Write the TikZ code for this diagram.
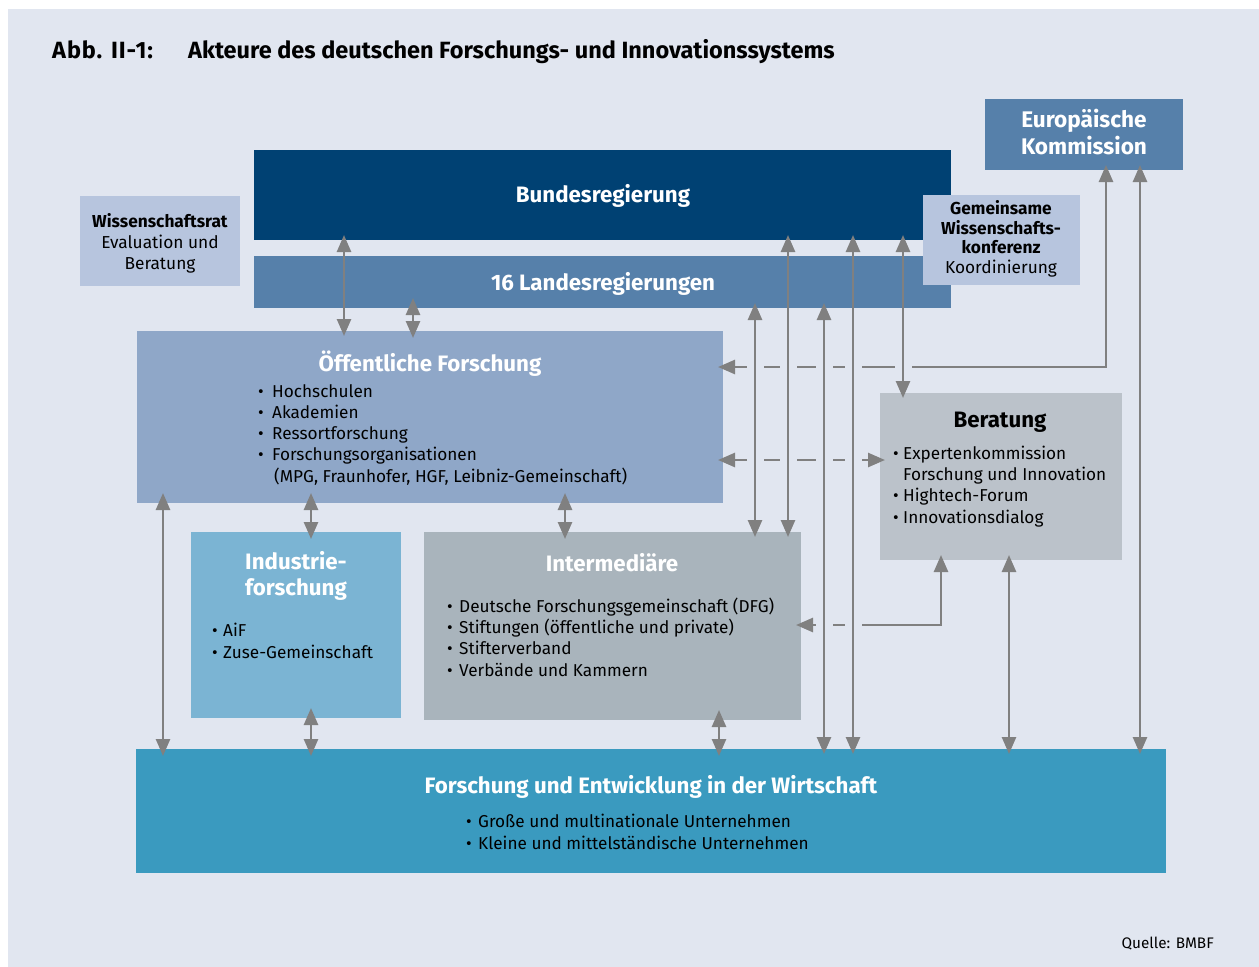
\documentclass[tikz,border=0pt]{standalone}
\usepackage{fontspec}
\setmainfont{Fira Sans}
\usepackage{xcolor}
\usetikzlibrary{arrows.meta}

\definecolor{bgblue}{RGB}{225,230,240}
\definecolor{navy}{RGB}{0,65,115}
\definecolor{midblue}{RGB}{86,128,170}
\definecolor{paleblue}{RGB}{183,197,222}
\definecolor{greyblue}{RGB}{143,167,200}
\definecolor{skyblue}{RGB}{123,180,211}
\definecolor{stonegrey}{RGB}{169,180,188}
\definecolor{lightgrey}{RGB}{187,194,202}
\definecolor{petrol}{RGB}{58,154,191}
\definecolor{arrowgrey}{RGB}{128,128,128}

\newcommand{\bul}[1][14pt]{\makebox[#1][l]{\textbullet}}

\begin{document}
\begin{tikzpicture}[x=1pt, y=-1pt]
    \tikzstyle{box} = [anchor=north west, inner sep=0pt, outer sep=0pt]
    \tikzstyle{head} = [text=white, font=\fontsize{22.3}{26}\selectfont\bfseries, align=center, inner sep=0pt]
    \tikzstyle{small} = [font=\fontsize{17.3}{21}\selectfont, align=center, inner sep=0pt]
    \tikzstyle{list} = [font=\fontsize{17.2}{21.3}\selectfont, align=left, anchor=base west, inner sep=0pt]
    \tikzstyle{arr} = [draw=arrowgrey, line width=2.6pt, shorten <=-5pt, shorten >=-5pt,
        {Triangle[width=14pt,length=17pt]}-{Triangle[width=14pt,length=17pt]}]
    \tikzstyle{short} = [shorten <=-10pt, shorten >=-7pt]

    \useasboundingbox (0,0) rectangle (1259,967);
    \fill[white] (0,0) rectangle (1259,967);
    \fill[bgblue] (8,9) rectangle (1259,967);

    % title
    \node[anchor=base west, inner sep=0pt, font=\fontsize{23.5}{26}\selectfont\bfseries\addfontfeature{LetterSpace=4}] (abb) at (52,58) {Abb. II-1:};
    \node[anchor=base west, inner sep=0pt, font=\fontsize{23.5}{26}\selectfont\bfseries] (titel) at (188,58) {Akteure des deutschen Forschungs- und Innovationssystems};

    % boxes (lists are placed at the baseline of their last line)
    \node[box, fill=navy, minimum width=697pt, minimum height=90pt] (bund) at (254,150) {};
    \node[head] (bundt) at (603,196) {Bundesregierung};
    \node[box, fill=midblue, minimum width=697pt, minimum height=52pt] (land) at (254,256) {};
    \node[head] (landt) at (603,284) {16 Landesregierungen};

    \node[box, fill=paleblue, minimum width=160pt, minimum height=90pt] (wr) at (80,196) {};
    \node[small] (wrt) at (160,243) {\textbf{Wissenschaftsrat}\\Evaluation und\\Beratung};

    \node[box, fill=midblue, minimum width=198pt, minimum height=71pt] (eu) at (985,99) {};
    \node[head, font=\fontsize{22.6}{27}\selectfont\bfseries] (eut) at (1084,132) {Europäische\\Kommission};

    \node[box, fill=paleblue, minimum width=157pt, minimum height=90pt] (gwk) at (923,195) {};
    \node[small, font=\fontsize{17.3}{19.5}\selectfont] (gwkt) at (1001,239) {\textbf{Gemeinsame}\\\textbf{Wissenschafts-}\\\textbf{konferenz}\\Koordinierung};

    \node[box, fill=greyblue, minimum width=586pt, minimum height=172pt] (oeff) at (137,331) {};
    \node[head] (oefft) at (430,364) {Öffentliche Forschung};
    \node[list] (oeffl) at (258,482.2) {\bul Hochschulen\\\bul Akademien\\\bul Ressortforschung\\\bul Forschungsorganisationen\\\hspace*{16pt}(MPG, Fraunhofer, HGF, Leibniz-Gemeinschaft)};

    \node[box, fill=lightgrey, minimum width=242pt, minimum height=167pt] (ber) at (880,393) {};
    \node[head, text=black] (bert) at (1000,422) {Beratung};
    \node[list] (berl) at (893,523) {\bul[10pt]Expertenkommission\\\hspace*{10pt}Forschung und Innovation\\\bul[10pt]Hightech-Forum\\\bul[10pt]Innovationsdialog};

    \node[box, fill=skyblue, minimum width=210pt, minimum height=186pt] (ind) at (191,532) {};
    \node[head] (indt) at (296,576) {Industrie-\\forschung};
    \node[list] (indl) at (212,658) {\bul[11pt]AiF\\\bul[11pt]Zuse-Gemeinschaft};

    \node[box, fill=stonegrey, minimum width=377pt, minimum height=188pt] (inter) at (424,532) {};
    \node[head] (intert) at (612,563) {Intermediäre};
    \node[list] (interl) at (447,676) {\bul[12pt]Deutsche Forschungsgemeinschaft (DFG)\\\bul[12pt]Stiftungen (öffentliche und private)\\\bul[12pt]Stifterverband\\\bul[12pt]Verbände und Kammern};

    \node[box, fill=petrol, minimum width=1030pt, minimum height=124pt] (wirt) at (136,749) {};
    \node[head] (wirtt) at (651,787) {Forschung und Entwicklung in der Wirtschaft};
    \node[list] (wirtl) at (466,849) {\bul[12pt]Große und multinationale Unternehmen\\\bul[12pt]Kleine und mittelständische Unternehmen};

    \node[anchor=base east, inner sep=0pt, font=\fontsize{15.3}{17}\selectfont] (quelle) at (1214,948) {Quelle: BMBF};

    % columns and rows of the connectors
    \foreach \n/\x in {a/344, b/413, c/755, d/788, e/824, f/853, g/903, h/1140, i/1009, j/163, k/311, l/565, m/719, n/1106, o/941} {
        \coordinate (x\n) at (\x,0);
    }
    \coordinate (ya) at (0,367);
    \coordinate (yb) at (0,460);
    \coordinate (yc) at (0,625);

    % horizontal connectors
    \draw[arr] (eu.south -| xn) |- (oeff.east |- ya);
    \draw[arr] (oeff.east |- yb) -- (ber.west |- yb);
    \draw[arr] (ber.south -| xo) |- (inter.east |- yc);

    % gaps where the lines cross
    \foreach \x in {755,788,824,853,903} {
        \fill[bgblue] (\x-8.5,362) rectangle (\x+8.5,372);
    }
    \foreach \x in {755,788,824,853} {
        \fill[bgblue] (\x-8.5,455) rectangle (\x+8.5,465);
    }
    \foreach \x in {824,853} {
        \fill[bgblue] (\x-8.5,620) rectangle (\x+8.5,630);
    }

    % vertical connectors
    \draw[arr] (bund.south -| xa) -- (oeff.north -| xa);
    \draw[arr, short] (land.south -| xb) -- (oeff.north -| xb);
    \draw[arr] (land.south -| xc) -- (inter.north -| xc);
    \draw[arr] (bund.south -| xd) -- (inter.north -| xd);
    \draw[arr] (land.south -| xe) -- (wirt.north -| xe);
    \draw[arr] (bund.south -| xf) -- (wirt.north -| xf);
    \draw[arr] (bund.south -| xg) -- (ber.north -| xg);
    \draw[arr] (eu.south -| xh) -- (wirt.north -| xh);
    \draw[arr] (ber.south -| xi) -- (wirt.north -| xi);
    \draw[arr, short] (oeff.south -| xj) -- (wirt.north -| xj);
    \draw[arr, short] (oeff.south -| xk) -- (ind.north -| xk);
    \draw[arr, short] (ind.south -| xk) -- (wirt.north -| xk);
    \draw[arr, short] (oeff.south -| xl) -- (inter.north -| xl);
    \draw[arr, short] (inter.south -| xm) -- (wirt.north -| xm);
\end{tikzpicture}
\end{document}
